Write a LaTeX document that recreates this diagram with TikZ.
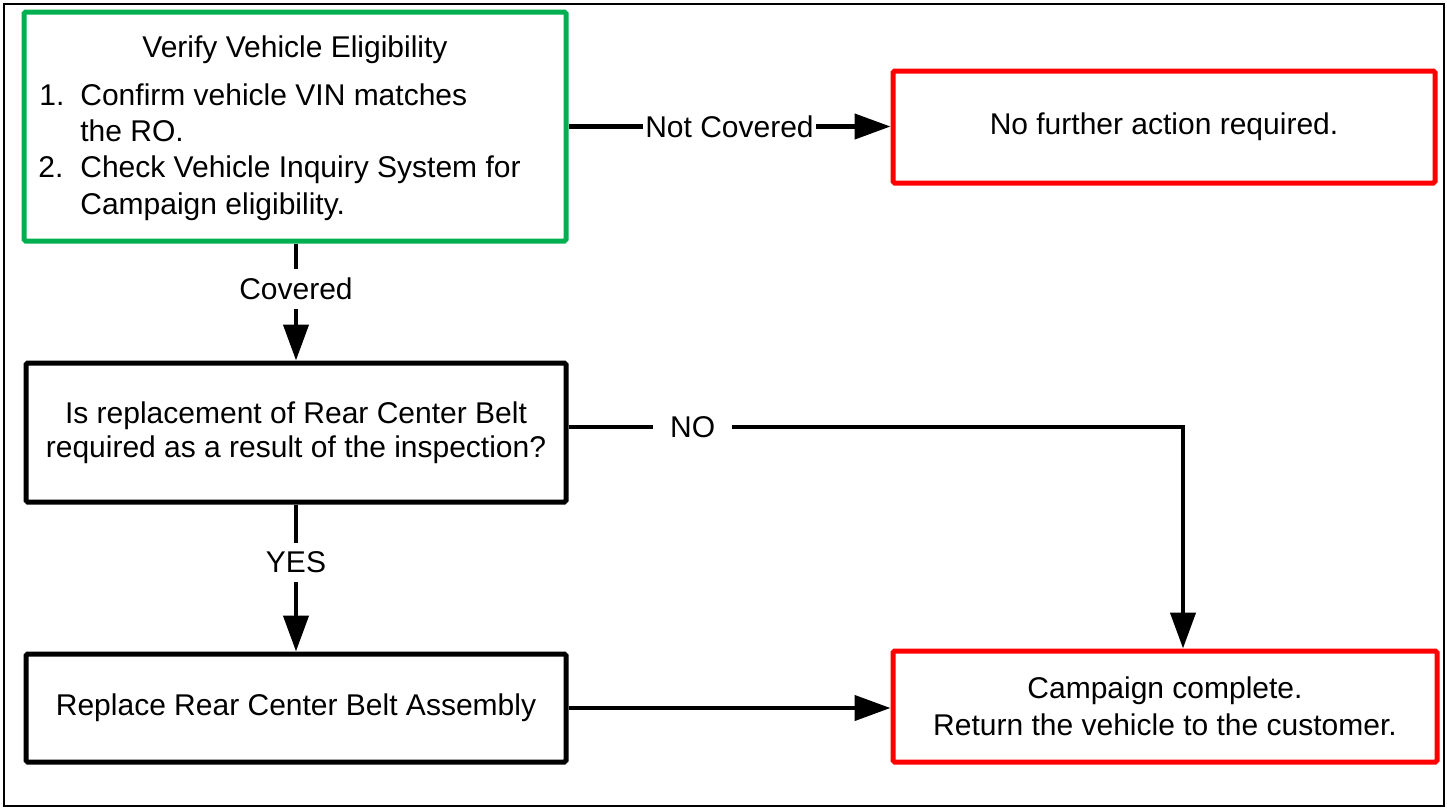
\documentclass[tikz,border=0pt]{standalone}
\usepackage{fontspec}
\setmainfont{Liberation Sans}
\usetikzlibrary{arrows.meta}
\definecolor{boxgreen}{RGB}{0,176,80}
\definecolor{boxred}{RGB}{255,0,0}
\begin{document}
\begin{tikzpicture}[x=0.5pt,y=-0.5pt,
 every node/.style={font=\fontsize{15}{17.25}\selectfont},
 box/.style={draw=black, line width=2.5pt, rounded corners=0.8pt, align=center, inner sep=0pt, minimum width=270pt},
 greenbox/.style={box, draw=boxgreen},
 redbox/.style={box, draw=boxred},
 arr/.style={line width=2.2pt, -{Triangle[length=18pt,width=12.5pt]}},
 lbl/.style={fill=white, inner xsep=1pt, inner ysep=4.5pt},
 nolbl/.style={fill=white, inner xsep=8.5pt, inner ysep=4.5pt},
 txt/.style={inner sep=0pt, anchor=base west}]
\useasboundingbox (0,0) rectangle (1447,810);
\draw[line width=1.3pt] (4,4) rectangle (1444,806);

\node[greenbox, minimum width=271pt, minimum height=114.5pt] (verify) at (295,126.5) {};
\node[inner sep=0pt, anchor=base] (vtitle) at (295,57) {Verify Vehicle Eligibility};
\node[txt] (n1) at (39,105) {1.};
\node[txt] (t1a) at (80,105) {Confirm vehicle VIN matches};
\node[txt] (t1b) at (80,141) {the RO.};
\node[txt] (n2) at (38,177) {2.};
\node[txt] (t2a) at (80,177) {Check Vehicle Inquiry System for};
\node[txt] (t2b) at (80,214) {Campaign eligibility.};

\node[redbox, minimum width=271pt, minimum height=56pt] (red1) at (1164,127) {No further action required.};

\node[box, minimum height=69.5pt] (inspect) at (296,432.5) {Is replacement of Rear Center Belt\\required as a result of the inspection?};

\node[box, minimum height=54pt] (replace) at (296,708) {Replace Rear Center Belt Assembly};

\node[redbox, minimum width=272pt, minimum height=55.5pt, font=\fontsize{15}{18.4}\selectfont] (done) at (1165,706.5) {Campaign complete.\\Return the vehicle to the customer.};

\draw[arr] (verify.east) -- node[lbl]{Not Covered} (verify.east -| red1.west);
\draw[arr] (inspect.north |- verify.south) -- node[lbl, pos=0.385]{Covered} (inspect.north);
\draw[arr] (inspect.south) -- node[lbl, pos=0.395]{YES} (replace.north);
\draw[arr] ([yshift=2.75pt]inspect.east) -| node[nolbl, pos=0.101]{NO} ([xshift=9pt]done.north);
\draw[arr] (replace.east) -- (replace.east -| done.west);
\end{tikzpicture}
\end{document}
